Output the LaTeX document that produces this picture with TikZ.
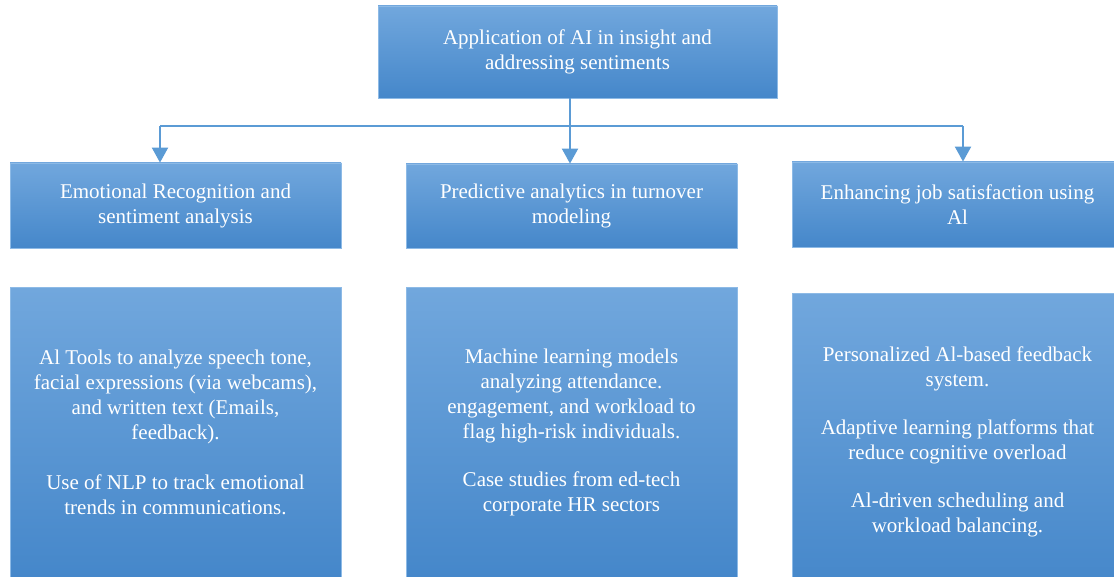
\documentclass[tikz,border=0pt]{standalone}
\usepackage{fontspec}
\setmainfont{Liberation Serif}
\usetikzlibrary{positioning,arrows.meta}

\definecolor{boxtop}{HTML}{71A7DD}
\definecolor{boxbot}{HTML}{4587CA}
\definecolor{boxline}{HTML}{8DBAE6}
\definecolor{arrowblue}{HTML}{5B9BD5}

\begin{document}
\begin{tikzpicture}[x=1pt, y=-1pt,
    main/.style = {draw=boxline, line width=0.8pt, top color=boxtop, bottom color=boxbot,
        text=white, align=center, inner sep=0pt, font=\fontsize{21}{25}\selectfont},
    arr/.style = {arrowblue, line width=2pt, -{Triangle[width=16pt,length=15pt]}}]
    \useasboundingbox (0,0) rectangle (1114,577);
    \node[main, minimum width=399pt, minimum height=92pt] (1) at (577.5,52)
        {Application of AI in insight and\\addressing sentiments};
    \node[main, minimum width=331pt, minimum height=85pt] (2) at (175.5,205.5)
        {Emotional Recognition and\\sentiment analysis};
    \node[main, minimum width=331pt, minimum height=84pt] (3) at (571.5,206)
        {Predictive analytics in turnover\\modeling};
    \node[main, minimum width=331pt, minimum height=85pt] (4) at (957.5,204.5)
        {Enhancing job satisfaction using\\Al};
    \node[main, minimum width=331pt, minimum height=290pt] (5) [below=39pt of 2]
        {Al Tools to analyze speech tone,\\facial expressions (via webcams),\\and written text (Emails,\\feedback).\\[25pt]
         Use of NLP to track emotional\\trends in communications.};
    \node[main, minimum width=331pt, minimum height=290pt] (6) [below=39pt of 3]
        {Machine learning models\\analyzing attendance.\\engagement, and workload to\\flag high-risk individuals.\\[23pt]
         Case studies from ed-tech\\corporate HR sectors};
    \node[main, minimum width=331pt, minimum height=296pt] (7) [below=46pt of 4]
        {Personalized Al-based feedback\\system.\\[23pt]
         Adaptive learning platforms that\\reduce cognitive overload\\[23pt]
         Al-driven scheduling and\\workload balancing.};
    \coordinate (hm) at (570,126);
    \coordinate (hl) at (160,126);
    \coordinate (hr) at (963,126);
    \draw[arrowblue, line width=1.2pt] (hl) -- (hr);
    \draw[arr] (hm |- 1.south) -- (hm |- 3.north);
    \draw[arr] (hl) -- (hl |- 2.north);
    \draw[arr] (hr) -- (hr |- 4.north);
\end{tikzpicture}
\end{document}
